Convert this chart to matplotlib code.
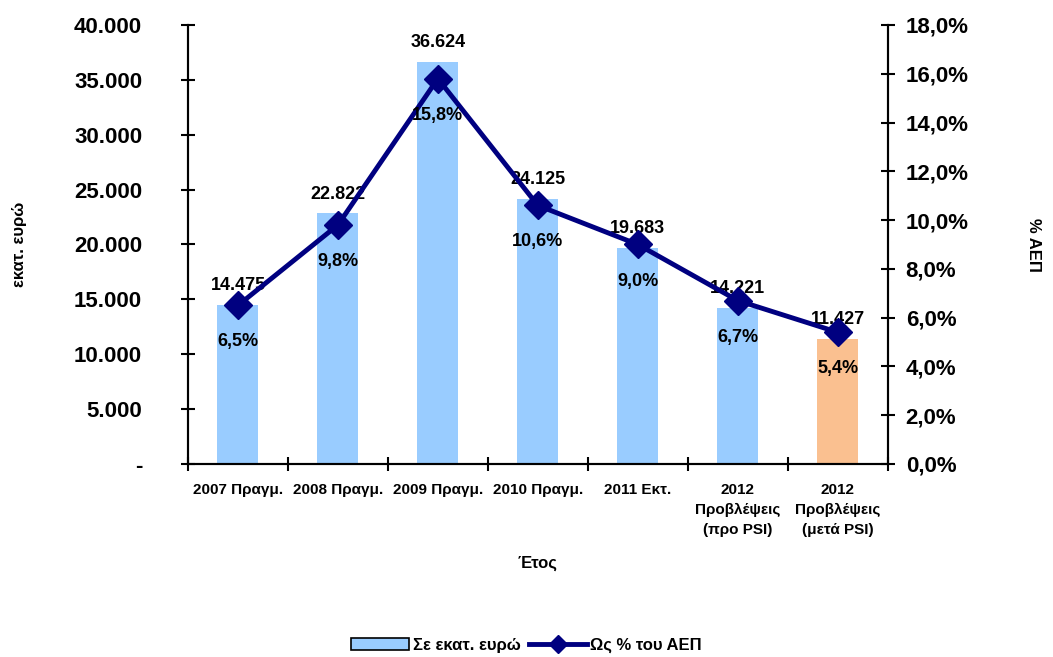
import matplotlib.pyplot as plt
import numpy as np
from matplotlib.ticker import FuncFormatter
from matplotlib.patches import Patch
from matplotlib.lines import Line2D

plt.rcParams['font.family'] = ['Liberation Sans Narrow', 'Liberation Sans', 'DejaVu Sans']
plt.rcParams['font.weight'] = 'bold'

# Data
categories = ['2007 Πραγμ.', '2008 Πραγμ.', '2009 Πραγμ.', '2010 Πραγμ.', '2011 Εκτ.',
              '2012\nΠροβλέψεις\n(προ PSI)', '2012\nΠροβλέψεις\n(μετά PSI)']
amounts = [14475, 22822, 36624, 24125, 19683, 14221, 11427]
pct_gdp = [6.5, 9.8, 15.8, 10.6, 9.0, 6.7, 5.4]

bar_colors = ['#99CCFF'] * 6 + ['#FAC090']
navy = '#000080'

fig = plt.figure(figsize=(10.53, 6.57), dpi=100)
ax = fig.add_axes([0.1785, 0.2938, 0.6645, 0.6682])
ax2 = ax.twinx()

x = np.arange(len(categories))
ax.bar(x, amounts, width=0.41, color=bar_colors, zorder=1)
ax.set_xlim(-0.5, len(categories) - 0.5)
ax.set_ylim(0, 40000)
ax.set_yticks(np.arange(0, 40001, 5000))

def thousands(v, pos):
    if v == 0:
        return '-'
    return f'{int(v):,}'.replace(',', '.')

ax.yaxis.set_major_formatter(FuncFormatter(thousands))
ax.set_xticks(x)
ax.set_xticklabels(categories, fontsize=11, fontweight='bold', linespacing=1.5)
ax.set_xticks(np.arange(-0.5, len(categories)), minor=True)
ax.tick_params(axis='x', which='major', length=0, pad=14)
ax.tick_params(axis='x', which='minor', direction='inout', length=10, width=1.5)
ax.tick_params(axis='y', direction='inout', length=10, width=1.5, labelsize=16, pad=28)

for lab in ax.get_yticklabels():
    lab.set_fontweight('bold')

for i, v in enumerate(amounts):
    ax.text(i, v + 1000, f'{v:,}'.replace(',', '.'), ha='center', va='bottom',
            fontsize=13, fontweight='bold')

ax2.plot(x, pct_gdp, color=navy, linewidth=3.5, marker='D', markersize=14, zorder=3)
ax2.set_ylim(0, 18)
ax2.set_yticks(np.arange(0, 18.1, 2))
ax2.yaxis.set_major_formatter(FuncFormatter(lambda v, p: f'{v:.1f}%'.replace('.', ',')))
ax2.tick_params(axis='y', direction='inout', length=10, width=1.5, labelsize=16, pad=8)
for lab in ax2.get_yticklabels():
    lab.set_fontweight('bold')

for i, v in enumerate(pct_gdp):
    ax2.text(i, v - 1.15, f'{v:.1f}%'.replace('.', ','), ha='center', va='top',
             fontsize=13, fontweight='bold')

for a in (ax, ax2):
    a.spines['top'].set_visible(False)
    for s in ('left', 'right', 'bottom'):
        a.spines[s].set_linewidth(1.5)

ax.set_ylabel('εκατ. ευρώ', fontsize=12, fontweight='bold', labelpad=34)
ax2.set_ylabel('% ΑΕΠ', fontsize=12, fontweight='bold', rotation=-90, labelpad=52)
ax.set_xlabel('Έτος', fontsize=12, fontweight='bold', labelpad=14)

handles = [Patch(facecolor='#99CCFF', edgecolor='black', linewidth=1.2),
           Line2D([], [], color=navy, linewidth=3.5, marker='D', markersize=9)]
fig.legend(handles, ['Σε εκατ. ευρώ', 'Ως % του ΑΕΠ'], loc='center',
           bbox_to_anchor=(0.5, 0.018), ncol=2, frameon=False,
           handlelength=3.5, handletextpad=0.2, columnspacing=0.5,
           prop={'weight': 'bold', 'size': 12})

fig.savefig('out.png', dpi=100)
